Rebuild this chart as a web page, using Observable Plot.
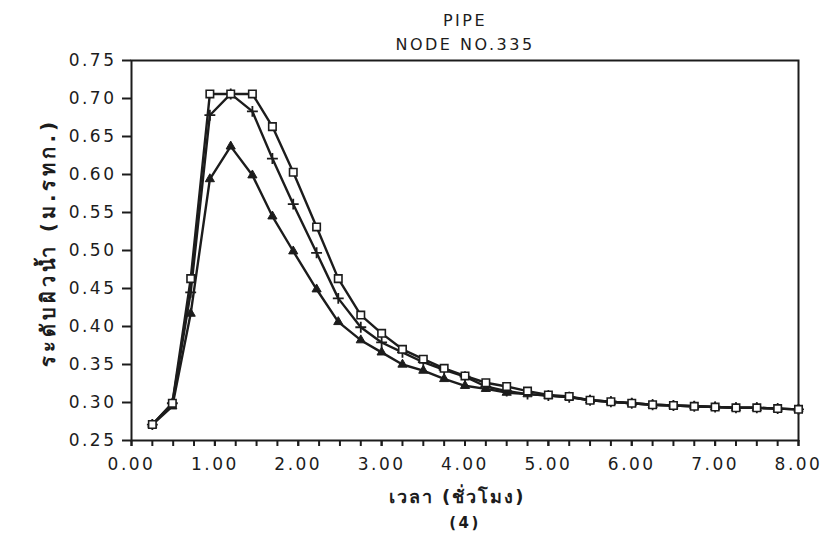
<!DOCTYPE html>
<html>
<head>
<meta charset="utf-8">
<script src="https://cdn.jsdelivr.net/npm/d3@7"></script>
<script src="https://cdn.jsdelivr.net/npm/@observablehq/plot@0.6"></script>
<style>
  body { margin: 0; background: #fff; }
  #chart svg { display: block; }
</style>
</head>
<body>
<div id="chart"></div>
<script>
// Time of each computed step (hours)
const hours = [0.25, 0.49, 0.71, 0.94, 1.19, 1.45, 1.69, 1.94, 2.22, 2.48, 2.75, 3.0,
  3.25, 3.5, 3.75, 4.0, 4.25, 4.5, 4.75, 5.0, 5.25, 5.5, 5.75, 6.0,
  6.25, 6.5, 6.75, 7.0, 7.25, 7.5, 7.75, 8.0];

// Water surface level (m. MSL) at node 335, one array per run
const levelSquare = [0.271, 0.299, 0.463, 0.706, 0.706, 0.706, 0.663, 0.603, 0.531, 0.463, 0.415, 0.391,
  0.370, 0.357, 0.345, 0.335, 0.326, 0.321, 0.315, 0.310, 0.308, 0.303, 0.301, 0.299,
  0.297, 0.296, 0.295, 0.294, 0.293, 0.293, 0.292, 0.291];
const levelPlus = [0.271, 0.299, 0.445, 0.678, 0.706, 0.683, 0.621, 0.561, 0.497, 0.437, 0.399, 0.379,
  0.366, 0.353, 0.343, 0.334, 0.321, 0.315, 0.311, 0.309, 0.307, 0.303, 0.301, 0.299,
  0.297, 0.296, 0.295, 0.294, 0.293, 0.293, 0.292, 0.291];
const levelTriangle = [0.271, 0.295, 0.417, 0.594, 0.637, 0.599, 0.545, 0.499, 0.449, 0.406, 0.382, 0.366,
  0.350, 0.342, 0.331, 0.322, 0.318, 0.313, 0.311, 0.309, 0.307, 0.303, 0.301, 0.299,
  0.297, 0.296, 0.295, 0.294, 0.293, 0.293, 0.292, 0.291];

// Axis ticks
const yTicks = [0.25, 0.30, 0.35, 0.40, 0.45, 0.50, 0.55, 0.60, 0.65, 0.70, 0.75];
const xLabelTicks = [0, 1, 2, 3, 4, 5, 6, 7, 8];
const xMinorTicks = [0, 0.25, 0.5, 0.75, 1, 1.25, 1.5, 1.75, 2, 2.25, 2.5, 2.75, 3, 3.25, 3.5, 3.75,
  4, 4.25, 4.5, 4.75, 5, 5.25, 5.5, 5.75, 6, 6.25, 6.5, 6.75, 7, 7.25, 7.5, 7.75, 8];

const titleLines = ["PIPE", "NODE NO.335"];
const yLabel = "ระดับผิวน้ำ (ม.รทก.)";
const xLabel = "เวลา (ชั่วโมง)";
const caption = "(4)";

const toRows = (values) => hours.map((t, i) => ({t, v: values[i]}));
const rowsSquare = toRows(levelSquare);
const rowsPlus = toRows(levelPlus);
const rowsTriangle = toRows(levelTriangle);

const ink = "#1c1c1c";

const chart = Plot.plot({
  width: 833,
  height: 555,
  marginTop: 60,
  marginBottom: 115,
  marginLeft: 131,
  marginRight: 35,
  style: {
    fontFamily: "'DejaVu Sans', 'Noto Sans', sans-serif",
    fontSize: "16px",
    color: ink,
    background: "#fff"
  },
  x: {domain: [0, 8]},
  y: {domain: [0.25, 0.75]},
  marks: [
    Plot.frame({stroke: ink, strokeWidth: 2}),
    Plot.axisY({ticks: yTicks, tickSize: 9, tickPadding: 6, strokeWidth: 2, fontSize: 17,
      tickFormat: d3.format(".2f"), label: null}),
    Plot.axisX({ticks: xMinorTicks, tickSize: 6, strokeWidth: 2, tickFormat: () => "", label: null}),
    Plot.axisX({ticks: xLabelTicks, tickSize: 6, tickPadding: 11, strokeWidth: 2, fontSize: 17,
      tickFormat: d3.format(".2f"), label: null}),

    Plot.line(rowsTriangle, {x: "t", y: "v", stroke: ink, strokeWidth: 2.4}),
    Plot.line(rowsPlus, {x: "t", y: "v", stroke: ink, strokeWidth: 2.4}),
    Plot.line(rowsSquare, {x: "t", y: "v", stroke: ink, strokeWidth: 2.4}),

    Plot.dot(rowsTriangle, {x: "t", y: "v", symbol: "triangle", r: 3.4, fill: ink, stroke: ink, strokeWidth: 1}),
    Plot.dot(rowsPlus, {x: "t", y: "v", symbol: "plus", r: 3.6, stroke: ink, strokeWidth: 1.8}),
    Plot.dot(rowsSquare, {x: "t", y: "v", symbol: "square", r: 4.2, fill: "#fff", stroke: ink, strokeWidth: 1.6}),

    Plot.text([titleLines[0]], {frameAnchor: "top", dy: -46, fontSize: 16}),
    Plot.text([titleLines[1]], {frameAnchor: "top", dy: -22, fontSize: 16}),
    Plot.text([yLabel], {frameAnchor: "left", textAnchor: "middle", lineAnchor: "middle",
      dx: -83, dy: -8, rotate: -90, fontSize: 20, fontWeight: "bold"}),
    Plot.text([xLabel], {frameAnchor: "bottom", textAnchor: "middle", dx: -8, dy: 62, fontSize: 18, fontWeight: "bold"}),
    Plot.text([caption], {frameAnchor: "bottom", dy: 87, fontSize: 15, fontWeight: "bold"})
  ]
});

// Wide, plotter-style spacing for all lettering
const svg = d3.select(chart);
svg.selectAll("text")
  .filter(function () { return !/[\u0E00-\u0E7F]/.test(this.textContent); })
  .style("letter-spacing", "2.5px");
svg.selectAll("text")
  .filter(function () { return this.textContent === yLabel; })
  .style("letter-spacing", "4px");
svg.selectAll("text")
  .filter(function () { return this.textContent === xLabel; })
  .style("letter-spacing", "2px");

document.getElementById("chart").append(chart);
</script>
</body>
</html>
